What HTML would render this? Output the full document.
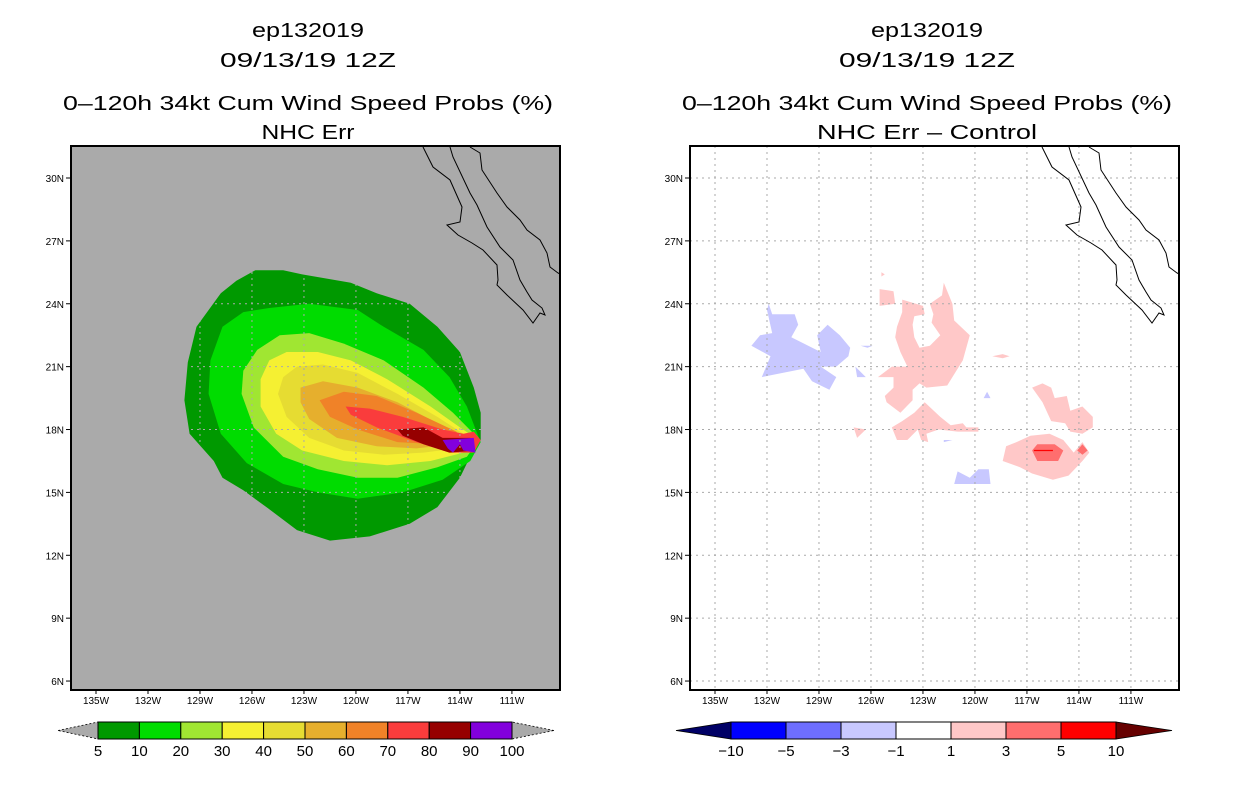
<!DOCTYPE html>
<html><head><meta charset="utf-8"><style>
html,body{margin:0;padding:0;background:#fff;}
svg text{font-family:"Liberation Sans",sans-serif;}
</style></head><body>
<svg id="root" width="1236" height="800" viewBox="0 0 1236 800" xmlns="http://www.w3.org/2000/svg">
<g id="left"></g>
<g id="right" transform="translate(619,0)"></g>
</svg>
<script>
// ---- axis data ----
const lonTicks = [135,132,129,126,123,120,117,114,111];
const latTicks = [30,27,24,21,18,15,12,9,6];
// ---- left panel: cumulative probability contours (lon W, lat N) ----
const probLevels = [5,10,20,30,40,50,60,70,80,90,100];
const probColors = ['#009900','#00dc00','#a0e632','#f5f032','#e6dc32','#e6af2d','#f08228','#fa3c3c','#960000','#8200dc'];
const c5 = [[125.8,25.6],[124.2,25.6],[123.1,25.4],[120.3,25.0],[118.8,24.5],[116.9,24.0],[115.3,22.9],[114.0,21.7],[113.2,20.0],[112.8,18.8],[112.8,17.5],[113.3,16.9],[114.0,15.7],[115.3,14.3],[116.9,13.5],[119.2,12.9],[121.5,12.7],[123.4,13.2],[125.0,14.2],[126.5,15.1],[127.7,15.7],[128.2,16.5],[129.6,17.8],[129.9,19.4],[129.7,21.2],[129.2,22.9],[127.8,24.5],[126.9,25.1]];
const c10 = [[125.0,23.8],[122.7,24.0],[119.9,23.7],[118.4,22.9],[116.1,21.8],[114.6,20.5],[113.6,19.1],[113.0,17.8],[112.8,17.4],[113.4,16.5],[115.0,15.6],[117.3,15.0],[119.9,14.7],[122.2,15.0],[124.2,15.4],[126.3,16.4],[127.8,17.8],[128.5,19.7],[128.4,21.3],[127.7,22.9],[126.5,23.6]];
const c20 = [[124.4,22.5],[122.7,22.6],[120.7,22.1],[118.4,21.3],[116.1,20.0],[114.4,18.8],[113.2,17.8],[113.0,17.4],[113.6,16.7],[115.3,16.2],[117.6,15.7],[119.9,15.7],[122.2,16.1],[124.2,16.7],[125.9,18.1],[126.6,19.7],[126.5,20.8],[125.7,21.8]];
const c30 = [[124.0,21.7],[122.2,21.7],[120.3,21.3],[118.2,20.4],[115.7,19.1],[114.0,18.1],[113.1,17.6],[113.8,16.9],[115.7,16.5],[118.2,16.3],[120.7,16.5],[123.1,17.0],[124.6,17.8],[125.5,19.1],[125.5,20.4],[125.0,21.3]];
const c40 = [[123.4,21.0],[121.9,21.1],[119.9,20.7],[117.6,19.7],[115.3,18.6],[113.8,17.8],[113.2,17.5],[114.2,17.1],[116.1,16.9],[118.4,16.8],[120.7,17.0],[122.7,17.6],[124.0,18.6],[124.5,19.7],[124.2,20.5]];
const c50 = [[123.2,20.0],[121.9,20.3],[119.9,20.0],[117.6,19.3],[115.3,18.3],[113.8,17.7],[114.4,17.3],[116.5,17.1],[118.8,17.2],[121.1,17.6],[122.7,18.5],[123.2,19.3]];
const c60 = [[122.1,19.4],[120.7,19.8],[118.8,19.6],[116.5,18.8],[114.2,17.9],[114.0,17.5],[115.3,17.3],[117.6,17.4],[119.9,18.0],[121.5,18.6]];
const c70 = [[120.6,19.1],[119.2,19.0],[117.3,18.6],[115.0,18.0],[113.8,17.8],[113.2,17.9],[112.8,17.5],[113.2,16.9],[114.6,16.9],[116.5,17.4],[118.8,18.1],[120.3,18.7]];
const c80 = [[117.6,18.0],[116.1,18.1],[115.0,17.6],[113.4,17.6],[113.1,17.0],[114.6,16.9],[116.1,17.3],[117.3,17.7]];
const c90 = [[115.0,17.5],[113.2,17.6],[113.1,16.9],[113.8,17.0],[114.0,17.3],[114.4,16.9],[114.7,17.1]];
// ---- right panel: difference contours ----
const diffLevels = [-10,-5,-3,-1,1,3,5,10];
const diffColors = ['#000066','#0000ff','#6e6eff','#c8c8ff','#ffffff','#ffc8c8','#ff6e6e','#ff0000','#660000'];
const negBlobs = [
 [[131.9,24.0],[131.7,23.5],[130.4,23.5],[130.2,23.0],[130.6,22.4],[128.9,21.7],[129.1,22.5],[128.5,23.0],[127.8,22.5],[127.2,21.9],[127.3,21.5],[128.0,21.0],[128.9,21.0],[128.0,20.5],[128.4,19.9],[129.4,20.3],[129.9,20.9],[132.3,20.5],[131.8,21.5],[132.9,22.0],[132.4,22.5],[131.7,22.6],[132.0,23.7]],
 [[126.6,22.0],[125.9,22.0],[126.2,21.9]],
 [[126.9,21.0],[126.3,20.5],[126.8,20.5]],
 [[121.0,16.0],[120.3,15.7],[119.8,16.1],[119.2,16.1],[119.1,15.4],[120.3,15.4],[121.2,15.4]],
 [[119.3,19.8],[119.1,19.5],[119.5,19.5]],
 [[121.8,17.5],[121.3,17.5],[121.8,17.4]]
];
const posBlobs = [
 [[125.5,24.7],[124.7,24.6],[124.6,24.0],[125.5,23.9]],
 [[125.4,25.5],[125.2,25.4],[125.4,25.3]],
 [[124.2,24.2],[123.0,23.9],[122.9,23.5],[123.5,23.4],[123.6,23.0],[123.5,22.4],[123.2,21.9],[122.6,22.0],[122.0,22.5],[122.5,23.1],[122.4,23.5],[122.6,24.0],[121.9,24.4],[121.8,25.0],[121.3,24.0],[121.2,23.2],[120.3,22.5],[120.7,21.3],[121.6,20.1],[122.8,20.0],[123.2,20.2],[123.6,19.9],[123.6,19.4],[124.3,18.8],[125.1,19.3],[125.2,19.6],[124.7,20.0],[124.7,20.5],[125.6,20.5],[124.8,21.0],[123.9,21.0],[124.3,21.7],[124.6,22.4],[124.5,22.9],[124.2,23.6]],
 [[122.9,19.3],[122.0,18.6],[121.4,18.2],[120.7,18.3],[120.5,18.1],[119.8,18.1],[119.8,17.9],[121.0,17.9],[122.1,18.0],[122.8,17.8],[122.7,17.4],[123.1,17.5],[123.3,18.0],[123.9,17.5],[124.5,17.5],[124.8,18.1],[124.2,18.4],[123.5,18.8]],
 [[127.0,18.1],[126.3,18.0],[126.8,17.6]],
 [[119.0,21.5],[118.4,21.6],[118.0,21.5],[118.4,21.4]],
 [[116.7,20.0],[116.1,20.2],[115.6,20.0],[115.4,19.5],[114.7,19.6],[114.5,18.9],[113.8,19.1],[113.2,18.6],[113.2,18.1],[113.8,17.8],[114.5,17.9],[114.8,18.3],[115.6,18.4],[116.1,19.3]],
 [[116.8,17.7],[115.7,17.8],[114.9,17.5],[114.3,16.9],[113.8,17.4],[113.4,16.9],[113.8,16.5],[114.6,15.8],[115.5,15.6],[116.7,15.9],[117.4,16.2],[118.4,16.5],[118.2,17.2],[117.6,17.4]]
];
const pos3Blobs = [
 [[116.7,17.0],[116.4,17.3],[115.4,17.3],[114.9,17.0],[115.2,16.5],[116.4,16.5]],
 [[114.1,17.0],[113.8,17.3],[113.5,17.0],[113.8,16.8]]
];

// ---- axis functions ----
const X0=71, X1=560, Y0=146, Y1=690;
function xs(w){ return 96 + (135 - w) * 17.33; }
function ys(n){ return 178 + (30 - n) * 20.96; }
const NS='http://www.w3.org/2000/svg';
function mk(tag, attrs, parent){ const e=document.createElementNS(NS,tag); for(const k in attrs) e.setAttribute(k,attrs[k]); parent.appendChild(e); return e; }
function pts(arr){ return arr.map(p=>xs(p[0]).toFixed(1)+','+ys(p[1]).toFixed(1)).join(' '); }

// coastline basemap (pixel offsets inside plot, not data)
const coastBaja = [[423,147],[433,167],[450,180],[462,207],[460,222],[447,225],[458,235],[472,243],[483,250],[497,265],[498,280],[497,285],[507,295],[523,310],[533,323],[540,313],[545,315],[542,308],[532,300],[527,292],[520,280],[513,260],[500,247],[487,227],[477,205],[470,193],[453,157],[450,147]];
const coastMain = [[470,147],[480,153],[482,170],[497,193],[507,207],[520,220],[527,230],[540,240],[547,253],[550,267],[558,273],[560,274]];

function drawPanel(g, isLeft){
  mk('rect',{x:X0,y:Y0,width:X1-X0,height:Y1-Y0,fill:isLeft?'#aaaaaa':'#ffffff'},g);
  if(isLeft){
    const cs=[c5,c10,c20,c30,c40,c50,c60,c70,c80,c90];
    cs.forEach((c,i)=>{
      const p=mk('polygon',{points:pts(c),fill:probColors[i]},g);
      
      
    });
  } else {
    negBlobs.forEach(b=>{ const p=mk('polygon',{points:pts(b),fill:diffColors[3]},g);
      
       });
    posBlobs.forEach(b=>{ const p=mk('polygon',{points:pts(b),fill:diffColors[5]},g);
      
       });
    pos3Blobs.forEach(b=>{ const p=mk('polygon',{points:pts(b),fill:diffColors[6]},g);
      
       });
    mk('line',{x1:xs(116.6),x2:xs(115.5),y1:ys(17.0),y2:ys(17.0),stroke:'#ff0000','stroke-width':1.2},g);
  }
  // grid
  const gc = isLeft?'#aaaaaa':'#aaaaaa';
  lonTicks.forEach(w=>{ const l=mk('line',{x1:xs(w),x2:xs(w),y1:Y0,y2:Y1,stroke:gc,'stroke-width':1,'stroke-dasharray':'2,4'},g);
      });
  latTicks.forEach(n=>{ const l=mk('line',{x1:X0,x2:X1,y1:ys(n),y2:ys(n),stroke:gc,'stroke-width':1,'stroke-dasharray':'2,4'},g);
      });
  // coast
  [coastBaja,coastMain].forEach(c=>{ const l=mk('polyline',{points:c.map(p=>p.join(',')).join(' '),fill:'none',stroke:'#000','stroke-width':1},g);
      });
  // frame
  const f=mk('rect',{x:X0,y:Y0,width:X1-X0,height:Y1-Y0,fill:'none',stroke:'#000','stroke-width':2},g);
   
  // ticks & labels
  latTicks.forEach(n=>{ mk('line',{x1:X0-5,x2:X0,y1:ys(n),y2:ys(n),stroke:'#000','stroke-width':1},g);
    const t=mk('text',{x:X0-7,y:ys(n)+4,'font-size':10,'text-anchor':'end'},g); t.textContent=n+'N';
      });
  lonTicks.forEach(w=>{ mk('line',{x1:xs(w),x2:xs(w),y1:Y1,y2:Y1+4,stroke:'#000','stroke-width':1},g);
    const t=mk('text',{x:xs(w),y:Y1+14,'font-size':10,'text-anchor':'middle'},g); t.textContent=w+'W';
      });
  // titles
  const titles = [['ep132019',30,112],['09/13/19 12Z',60,176],['0\u2013120h 34kt Cum Wind Speed Probs (%)',103,490],[isLeft?'NHC Err':'NHC Err \u2013 Control',132,isLeft?93:220]];
  titles.forEach((tt,i)=>{ const t=mk('text',{x:308,y:tt[1]+7,'font-size':20,'text-anchor':'middle',textLength:tt[2],lengthAdjust:'spacingAndGlyphs'},g);
    t.textContent=tt[0];   });
}
drawPanel(document.getElementById('left'), true);
drawPanel(document.getElementById('right'), false);

// colorbars
function colorbar(g, x0, x1, triL, triR, colors, labels, leftCol, rightCol, name){
  const y0=722,y1=739,ym=730.5, n=colors.length, w=(x1-x0)/n;
  mk('polygon',{points:`${triL},${ym} ${x0},${y0} ${x0},${y1}`,fill:leftCol,stroke:'#000','stroke-width':0.8,'stroke-dasharray':leftCol=='#aaaaaa'?'2,2':'none'},g);
  mk('polygon',{points:`${triR},${ym} ${x1},${y0} ${x1},${y1}`,fill:rightCol,stroke:'#000','stroke-width':0.8,'stroke-dasharray':rightCol=='#aaaaaa'?'2,2':'none'},g);
  colors.forEach((c,i)=>{ const r=mk('rect',{x:x0+i*w,y:y0,width:w,height:y1-y0,fill:c,stroke:'#000','stroke-width':1},g);
      });
  labels.forEach((l,i)=>{ const t=mk('text',{x:x0+i*w,y:756,'font-size':15,'text-anchor':'middle'},g);
    t.textContent=String(l).replace('-','\u2212');   });
}
const root=document.getElementById('root');
const cb1=mk('g',{},root);


colorbar(cb1,98,512,58,554,probColors,probLevels,'#aaaaaa','#aaaaaa','prob-colorbar');
const cb2=mk('g',{},root);


colorbar(cb2,731,1116,676,1172,diffColors.slice(1,8),diffLevels,diffColors[0],diffColors[8],'diff-colorbar');
</script>
</body></html>
